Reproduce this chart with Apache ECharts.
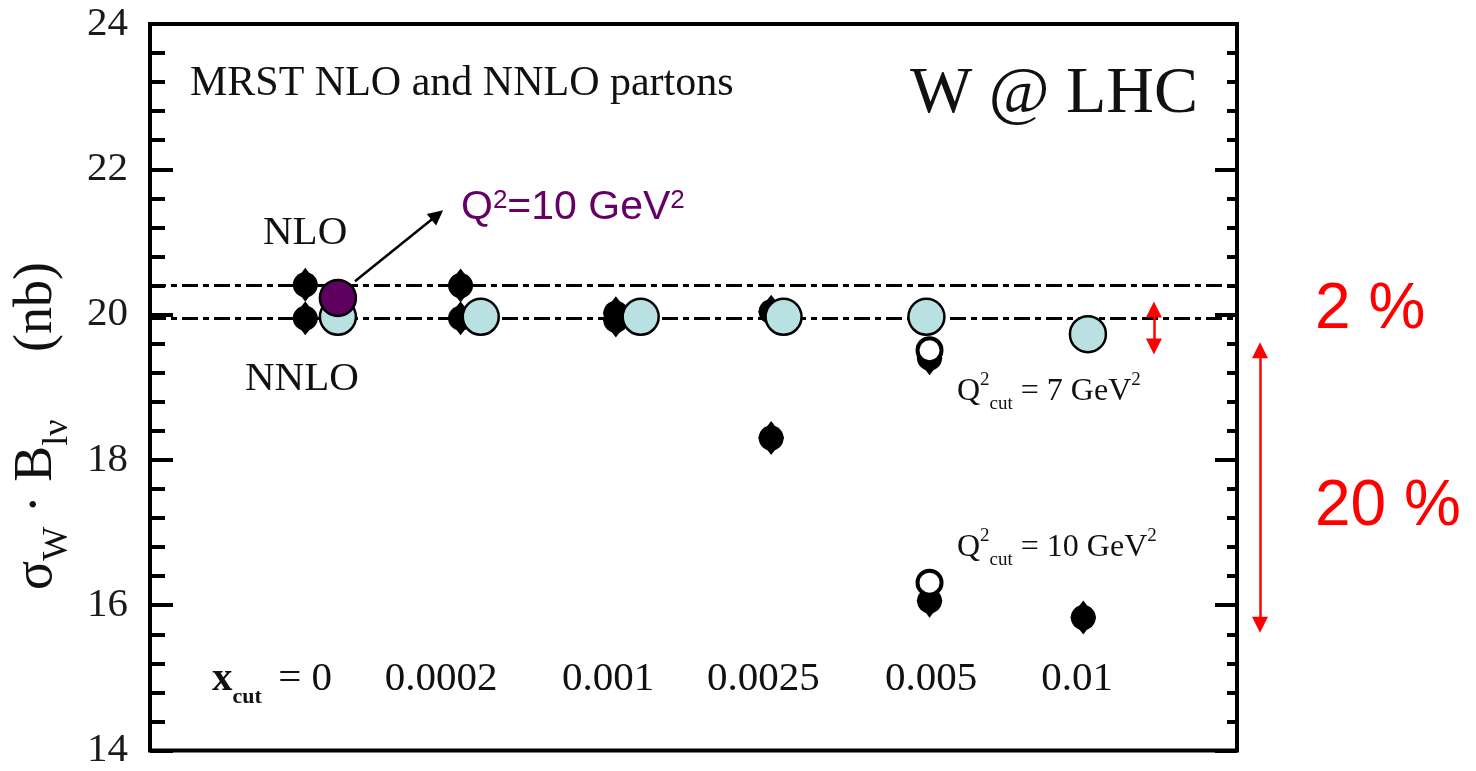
<!DOCTYPE html>
<html><head><meta charset="utf-8">
<script src="https://cdn.jsdelivr.net/npm/echarts@6/dist/echarts.min.js"></script>
<style>html,body{margin:0;padding:0;background:#fff;} #c{width:1476px;height:771px;}</style>
</head><body><div id="c"></div>
<script>
// ---- data ----
const xCut = ['0', '0.0002', '0.001', '0.0025', '0.005', '0.01'];
const groupX = [1, 2, 3, 4, 5.02, 6.01];
const nloBlack = [20.41, 20.40, 20.02, 20.04, 19.40, 19.75];
const nnloBlack = [19.95, 19.95, 19.92, 18.30, 16.06, 15.83];
const openQ7 = [null, null, null, null, 19.51, null];
const openQ10 = [null, null, null, null, 16.31, null];
const cyanX = [1.21, 2.13, 3.16, 4.08, 5.0, 6.04];
const cyanY = [19.97, 19.97, 19.97, 19.97, 19.97, 19.73];
const purpleX = [1.21];
const purpleY = [20.23];
const nloLine = 20.40;
const nnloLine = 19.95;
const yMin = 14, yMax = 24, yStep = 2;
const xLabelX = [0.786, 1.874, 2.95, 3.95, 5.03, 5.97];
const xLabelY = 14.98;
const q2ArrowLine = [[1.32, 20.46], [1.85, 21.37]];
const smallRedArrow = [[6.465, 20.07], [6.465, 19.56]];
const bigRedArrow = [[7.148, 19.51], [7.148, 15.73]];

// ---- build ----
const pair = (xs, ys) => xs.map((x, i) => ys[i] == null ? null : [x, ys[i]]).filter(Boolean);
const blackAll = pair(groupX, nloBlack).concat(pair(groupX, nnloBlack));
const serif = 'Liberation Serif';
const sans = 'Liberation Sans';
const ink = '#111';

const chart = echarts.init(document.getElementById('c'), null, {renderer: 'canvas'});
const yAxisBase = {
  type: 'value', min: yMin, max: yMax, interval: yStep,
  axisLine: {show: false}, splitLine: {show: false}
};
const noEmph = {disabled: true};
const option = {
  backgroundColor: '#fff',
  animation: false,
  grid: {left: 150, top: 24, width: 1087, height: 732, show: true, borderColor: '#000', borderWidth: 4, backgroundColor: 'transparent'},
  xAxis: {type: 'value', min: 0, max: 7, axisLine: {show: false}, axisTick: {show: false}, axisLabel: {show: false}, splitLine: {show: false}},
  yAxis: [
    Object.assign({}, yAxisBase, {
      position: 'left',
      axisTick: {show: true, inside: true, length: 23, lineStyle: {color: '#000', width: 4}},
      minorTick: {show: true, splitNumber: 5, length: 15, lineStyle: {color: '#000', width: 4}},
      axisLabel: {margin: 22, fontFamily: serif, fontSize: 41, color: '#1a1a1a'}
    }),
    Object.assign({}, yAxisBase, {
      position: 'right',
      axisTick: {show: true, inside: true, length: 22, lineStyle: {color: '#000', width: 4}},
      minorTick: {show: true, splitNumber: 5, length: 10, lineStyle: {color: '#000', width: 4}},
      axisLabel: {show: false}
    })
  ],
  series: [
    {
      type: 'scatter', data: [], symbolSize: 0, silent: true,
      markLine: {
        silent: true, symbol: ['none', 'none'], label: {show: false},
        lineStyle: {color: '#000', width: 3, type: [16, 5, 6, 5], opacity: 1},
        data: [{yAxis: nloLine}, {yAxis: nnloLine}]
      }
    },
    {type: 'scatter', data: blackAll, symbol: 'diamond', symbolSize: [26, 34], itemStyle: {color: '#000', opacity: 1}, emphasis: noEmph, z: 3},
    {type: 'scatter', data: blackAll, symbol: 'circle', symbolSize: 25, itemStyle: {color: '#000', opacity: 1}, emphasis: noEmph, z: 3},
    {type: 'scatter', data: pair(groupX, openQ7).concat(pair(groupX, openQ10)), symbol: 'circle', symbolSize: 24,
      itemStyle: {color: '#fff', borderColor: '#000', borderWidth: 4, opacity: 1}, emphasis: noEmph, z: 4},
    {type: 'scatter', data: pair(cyanX, cyanY), symbol: 'circle', symbolSize: 36,
      itemStyle: {color: '#b9e0e2', borderColor: '#000', borderWidth: 2.5, opacity: 1}, emphasis: noEmph, z: 5},
    {type: 'scatter', data: pair(purpleX, purpleY), symbol: 'circle', symbolSize: 36,
      itemStyle: {color: '#5e005e', borderColor: '#000', borderWidth: 2.5, opacity: 1}, emphasis: noEmph, z: 6},
    {
      type: 'lines', coordinateSystem: 'cartesian2d', clip: false, z: 7,
      symbol: ['none', 'triangle'], symbolSize: 15,
      lineStyle: {color: '#000', width: 2.5, opacity: 1},
      data: [{coords: q2ArrowLine}]
    },
    {
      type: 'lines', coordinateSystem: 'cartesian2d', clip: false, z: 7,
      symbol: ['triangle', 'triangle'], symbolSize: 16,
      lineStyle: {color: '#ff0000', width: 2.5, opacity: 1},
      data: [{coords: smallRedArrow}, {coords: bigRedArrow}]
    },
    {
      type: 'scatter', symbolSize: 0, silent: true, z: 8,
      itemStyle: {opacity: 1},
      data: xCut.map((t, i) => ({name: t, value: [xLabelX[i], xLabelY]})),
      label: {
        show: true, position: 'inside', color: ink, fontFamily: serif, fontSize: 41,
        formatter: p => p.dataIndex === 0 ? '{b|x}{s|cut}{m| = ' + p.name + '}' : p.name,
        rich: {
          m: {fontFamily: serif, fontSize: 41, color: ink},
          b: {fontFamily: serif, fontSize: 41, fontWeight: 'bold', color: ink},
          s: {fontFamily: serif, fontSize: 22, fontWeight: 'bold', color: ink, verticalAlign: 'top', padding: [36, 6, 0, 0]}
        }
      }
    }
  ],
  graphic: [
    {type: 'text', x: 190, y: 84, style: {text: 'MRST NLO and NNLO partons', fontFamily: serif, fontSize: 42, fill: ink, align: 'left', verticalAlign: 'middle'}},
    {type: 'text', x: 1198, y: 95, style: {text: 'W @ LHC', fontFamily: serif, fontSize: 66, fill: ink, align: 'right', verticalAlign: 'middle'}},
    {type: 'text', x: 263, y: 233, style: {text: 'NLO', fontFamily: serif, fontSize: 41, fill: ink, align: 'left', verticalAlign: 'middle'}},
    {type: 'text', x: 245, y: 379, style: {text: 'NNLO', fontFamily: serif, fontSize: 41, fill: ink, align: 'left', verticalAlign: 'middle'}},
    {type: 'text', x: 461, y: 208, style: {
      text: 'Q{p|2}=10 GeV{p|2}', fontFamily: sans, fontSize: 41, fill: '#660066', align: 'left', verticalAlign: 'middle',
      rich: {p: {fontFamily: sans, fontSize: 26, fill: '#660066', verticalAlign: 'top'}}
    }},
    {type: 'text', x: 957, y: 392, style: {
      text: 'Q{p|2}{s|cut} = 7 GeV{p|2}', fontFamily: serif, fontSize: 32, fill: ink, align: 'left', verticalAlign: 'middle',
      rich: {p: {fontFamily: serif, fontSize: 19, verticalAlign: 'top'}, s: {fontFamily: serif, fontSize: 19, verticalAlign: 'top', padding: [24, 0, 0, 0]}}
    }},
    {type: 'text', x: 957, y: 548, style: {
      text: 'Q{p|2}{s|cut} = 10 GeV{p|2}', fontFamily: serif, fontSize: 32, fill: ink, align: 'left', verticalAlign: 'middle',
      rich: {p: {fontFamily: serif, fontSize: 19, verticalAlign: 'top'}, s: {fontFamily: serif, fontSize: 19, verticalAlign: 'top', padding: [24, 0, 0, 0]}}
    }},
    {type: 'text', x: 1315, y: 310, style: {text: '2 %', fontFamily: sans, fontSize: 64, fill: '#ff0000', align: 'left', verticalAlign: 'middle'}},
    {type: 'text', x: 1315, y: 507, style: {text: '20 %', fontFamily: sans, fontSize: 64, fill: '#ff0000', align: 'left', verticalAlign: 'middle'}},
    {type: 'text', x: 37, y: 426, rotation: Math.PI / 2, style: {
      text: '{m|σ}{s|W}{m| · B}{s|lν}{m|     (nb)}', fill: ink, align: 'center', verticalAlign: 'middle',
      rich: {
        m: {fontFamily: serif, fontSize: 54, fill: ink},
        s: {fontFamily: serif, fontSize: 36, fill: ink, verticalAlign: 'top', padding: [41, 0, 0, 0]}
      }
    }}
  ]
};
chart.setOption(option);
</script>
</body></html>
